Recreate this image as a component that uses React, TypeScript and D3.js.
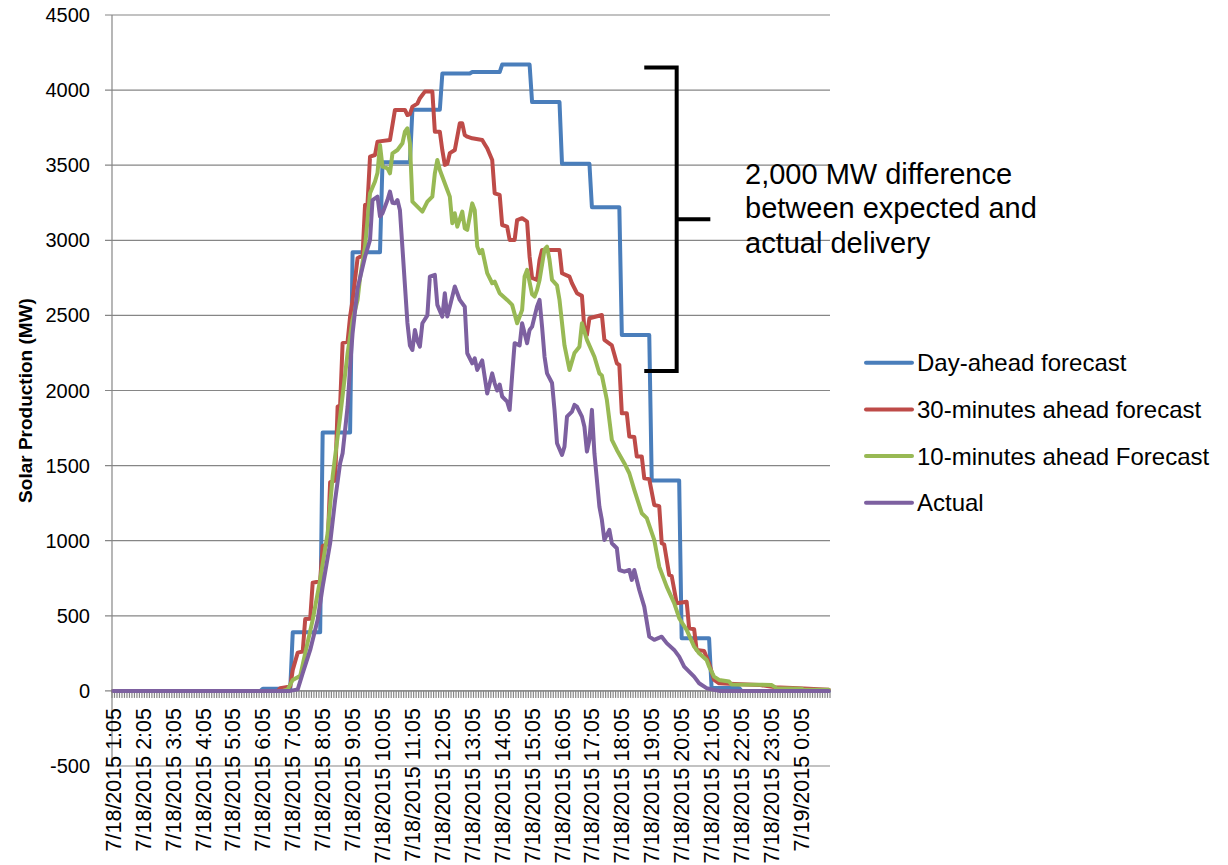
import React from 'react';
import * as d3 from 'd3';

// ---------- DATA ----------
const categoryLabels = [
  '7/18/2015 1:05', '7/18/2015 2:05', '7/18/2015 3:05', '7/18/2015 4:05',
  '7/18/2015 5:05', '7/18/2015 6:05', '7/18/2015 7:05', '7/18/2015 8:05',
  '7/18/2015 9:05', '7/18/2015 10:05', '7/18/2015 11:05', '7/18/2015 12:05',
  '7/18/2015 13:05', '7/18/2015 14:05', '7/18/2015 15:05', '7/18/2015 16:05',
  '7/18/2015 17:05', '7/18/2015 18:05', '7/18/2015 19:05', '7/18/2015 20:05',
  '7/18/2015 21:05', '7/18/2015 22:05', '7/18/2015 23:05', '7/19/2015 0:05',
];
const pointsPerHour = 12; // 5-minute intervals
const categoryCount = 288;

const yTicks = [-500, 0, 500, 1000, 1500, 2000, 2500, 3000, 3500, 4000, 4500];

// Day-ahead forecast: one value per hour (starting at each label)
const dayAheadHourly = [0, 0, 0, 0, 0, 15, 390, 1720, 2920, 3520, 3870, 4110,
  4120, 4170, 3920, 3510, 3220, 2370, 1400, 350, 20, 0, 0, 0];

// [5-minute index from 1:05, MW]
const forecast30: [number, number][] = [
  [0, 0], [66, 0], [67, 18], [71, 29], [72, 140], [74, 255], [76, 262], [77, 478], [79, 480],
  [80, 720], [83, 730], [84, 965], [86, 975], [87, 1390], [89, 1400], [90, 1893], [91, 1900],
  [92, 2315], [94, 2325], [95, 2492], [96, 2600], [98, 2880], [100, 2900], [101, 3235],
  [102, 3246], [103, 3557], [105, 3568], [106, 3657], [111, 3668], [113, 3868], [117, 3868],
  [118, 3834], [119, 3840], [120, 3890], [122, 3910], [123, 3946], [125, 3990], [128, 3990],
  [129, 3723], [131, 3723], [132, 3600], [133, 3502], [134, 3510], [135, 3580], [137, 3601],
  [139, 3779], [140, 3779], [141, 3700], [142, 3690], [144, 3679], [148, 3668], [149, 3640],
  [150, 3613], [152, 3535], [153, 3313], [155, 3302], [156, 3102], [158, 3091], [159, 3002],
  [161, 3002], [162, 3135], [164, 3147], [166, 3124], [167, 2891], [168, 2750], [170, 2736],
  [171, 2869], [172, 2936], [179, 2936], [180, 2781], [183, 2758], [184, 2714], [186, 2648],
  [188, 2630], [189, 2403], [190, 2370], [191, 2481], [196, 2503], [197, 2337], [200, 2300],
  [202, 2181], [203, 2170], [204, 1848], [206, 1848], [207, 1693], [209, 1690], [210, 1560],
  [212, 1560], [213, 1416], [215, 1410], [217, 1238], [219, 1230], [220, 983], [221, 975],
  [223, 772], [224, 765], [226, 584], [230, 594], [231, 417], [233, 410], [234, 273],
  [237, 265], [239, 184], [241, 73], [243, 51], [247, 48], [259, 40], [265, 25], [275, 18],
  [287, 7],
];

const forecast10: [number, number][] = [
  [0, 0], [68, 0], [70, 10], [72, 73], [75, 100], [77, 251], [80, 473], [83, 739], [86, 1050],
  [88, 1427], [91, 1826], [94, 2248], [96, 2470], [98, 2603], [99, 2750], [101, 2958],
  [103, 3313], [105, 3391], [106, 3450], [107, 3635], [108, 3490], [110, 3479], [111, 3446],
  [112, 3579], [114, 3601], [116, 3646], [117, 3723], [118, 3746], [119, 3646], [120, 3257],
  [122, 3224], [124, 3191], [126, 3257], [128, 3291], [129, 3446], [130, 3535], [131, 3468],
  [134, 3335], [135, 3291], [136, 3113], [137, 3180], [138, 3091], [140, 3191], [141, 3080],
  [142, 3069], [144, 3246], [145, 3200], [146, 2960], [147, 2914], [148, 2936], [150, 2781],
  [152, 2714], [153, 2725], [155, 2648], [158, 2603], [160, 2570], [162, 2448], [164, 2536],
  [165, 2760], [166, 2803], [168, 2640], [169, 2625], [170, 2670], [171, 2736], [173, 2940],
  [174, 2958], [175, 2869], [176, 2736], [178, 2700], [179, 2603], [181, 2300], [183, 2137],
  [185, 2250], [187, 2292], [188, 2448], [190, 2337], [193, 2225], [195, 2114], [196, 2100],
  [198, 1937], [200, 1671], [202, 1604], [205, 1516], [207, 1449], [209, 1338], [212, 1183],
  [214, 1150], [217, 1005], [219, 827], [222, 694], [225, 584], [227, 484], [230, 406],
  [233, 295], [235, 251], [238, 206], [239, 162], [241, 95], [243, 73], [247, 62], [248, 42],
  [264, 40], [266, 18], [276, 15], [277, 7], [287, 7],
];

const actual: [number, number][] = [
  [0, 0], [71, 0], [74, 10], [76, 118], [79, 273], [82, 473], [84, 694], [87, 983], [89, 1271],
  [91, 1516], [92, 1582], [94, 1893], [95, 2159], [96, 2381], [98, 2680], [101, 2891],
  [103, 3002], [104, 3268], [106, 3291], [107, 3158], [108, 3180], [110, 3268], [111, 3324],
  [112, 3250], [113, 3246], [114, 3268], [115, 3200], [116, 2950], [117, 2700], [118, 2450],
  [119, 2300], [120, 2270], [121, 2403], [122, 2330], [123, 2292], [124, 2448], [126, 2500],
  [127, 2758], [129, 2770], [130, 2570], [132, 2492], [133, 2648], [134, 2492], [136, 2625],
  [137, 2692], [139, 2603], [141, 2558], [142, 2248], [144, 2181], [145, 2214], [146, 2137],
  [148, 2200], [150, 1980], [152, 2114], [153, 2048], [154, 2000], [155, 2040], [156, 1960],
  [158, 1926], [159, 1871], [160, 2100], [161, 2315], [163, 2300], [164, 2448], [166, 2315],
  [167, 2403], [168, 2425], [170, 2560], [171, 2603], [172, 2425], [173, 2225], [174, 2114],
  [176, 2050], [177, 1871], [178, 1649], [180, 1571], [181, 1626], [182, 1826], [184, 1859],
  [185, 1904], [186, 1893], [188, 1826], [189, 1759], [190, 1593], [191, 1671], [192, 1871],
  [193, 1582], [195, 1227], [196, 1138], [197, 1005], [199, 1072], [200, 983], [202, 950],
  [203, 805], [205, 794], [207, 805], [208, 739], [209, 805], [211, 672], [213, 561],
  [215, 361], [217, 340], [220, 361], [222, 318], [225, 273], [227, 228], [229, 162],
  [233, 95], [235, 51], [238, 18], [241, 7], [243, 0], [287, 0],
];

const seriesNames = ['Day-ahead forecast', '30-minutes ahead forecast', '10-minutes ahead Forecast', 'Actual'];
const seriesColors = ['#4A7EBB', '#BE4B48', '#98B954', '#7D60A0'];

// annotation bracket, in data units (category index, MW)
const bracket = { iLeft: 213.5, iSpine: 226.5, iTick: 240, top: 4150, bottom: 2130 };
const annotationLines = ['2,000 MW difference', 'between expected and', 'actual delivery'];

// ---------- CHART ----------
const W = 1228, H = 865;
const plot = { left: 112, right: 830, top: 15, bottom: 766 };
const FONT = '"Liberation Sans", Arial, sans-serif';
const GRID = '#868686';

export default function App() {
  const x = d3.scaleLinear().domain([0, categoryCount]).range([plot.left, plot.right]);
  const xc = (i: number) => x(i + 0.5);
  const y = d3.scaleLinear().domain([-500, 4500]).range([plot.bottom, plot.top]);
  const line = d3.line<[number, number]>().x(d => xc(d[0])).y(d => y(d[1]));

  const dayAheadPts: [number, number][] = dayAheadHourly.flatMap((v, k) => [
    [k * pointsPerHour, v] as [number, number],
    [k * pointsPerHour + pointsPerHour - 1, v] as [number, number],
  ]);
  const allSeries = [dayAheadPts, forecast30, forecast10, actual];

  const y0 = y(0);
  const tickIdx = d3.range(categoryCount + 1);

  const bTop = y(bracket.top), bBot = y(bracket.bottom), bMid = (bTop + bBot) / 2;

  return (
    <svg width={W} height={H} style={{ position: 'absolute', left: 0, top: 0, background: '#fff' }}
      fontFamily={FONT}>
      <rect x={0} y={0} width={W} height={H} fill="#fff" />
      {/* gridlines */}
      {yTicks.map(t => (
        <g key={t}>
          <line x1={plot.left - 7} x2={plot.right} y1={y(t)} y2={y(t)} stroke={GRID} strokeWidth={1.2} />
          <text x={90} y={y(t)} dy="0.35em" textAnchor="end" fontSize={20} fill="#000">{t}</text>
        </g>
      ))}
      {/* y axis */}
      <line x1={plot.left} x2={plot.left} y1={plot.top} y2={plot.bottom} stroke={GRID} strokeWidth={1.2} />
      {/* x axis tick marks */}
      {tickIdx.map(i => (
        <line key={i} x1={x(i)} x2={x(i)} y1={y0} y2={y0 + 7} stroke={GRID} strokeWidth={1.2} />
      ))}
      <line x1={plot.left} x2={plot.right} y1={y0} y2={y0} stroke={GRID} strokeWidth={1.2} />
      {/* x labels */}
      {categoryLabels.map((lab, k) => {
        const cx = xc(k * pointsPerHour);
        return (
          <text key={lab} transform={`translate(${cx},708) rotate(-90)`} textAnchor="end" dy="0.35em"
            fontSize={21.5} fill="#000">{lab}</text>
        );
      })}
      {/* series */}
      {allSeries.map((s, k) => (
        <path key={k} d={line(s) || ''} fill="none" stroke={seriesColors[k]} strokeWidth={4}
          strokeLinejoin="round" strokeLinecap="round" />
      ))}
      {/* y title */}
      <text transform={`translate(25,${(plot.top + plot.bottom) / 2 + 10}) rotate(-90)`} textAnchor="middle"
        dy="0.35em" fontSize={19} fontWeight="bold" fill="#000">Solar Production (MW)</text>
      {/* bracket annotation */}
      <path d={`M${x(bracket.iLeft)},${bTop} H${x(bracket.iSpine)} V${bBot} H${x(bracket.iLeft)}`}
        fill="none" stroke="#000" strokeWidth={4} />
      <line x1={x(bracket.iSpine)} x2={x(bracket.iTick)} y1={bMid} y2={bMid} stroke="#000" strokeWidth={4} />
      {annotationLines.map((t, k) => (
        <text key={t} x={745} y={184 + k * 34.3} fontSize={29} fill="#000">{t}</text>
      ))}
      {/* legend */}
      {seriesNames.map((n, k) => {
        const ly = 362.7 + k * 46.7;
        return (
          <g key={n}>
            <line x1={866} x2={912} y1={ly} y2={ly} stroke={seriesColors[k]} strokeWidth={4} strokeLinecap="round" />
            <text x={917} y={ly} dy="0.35em" fontSize={24} fill="#000">{n}</text>
          </g>
        );
      })}
    </svg>
  );
}
